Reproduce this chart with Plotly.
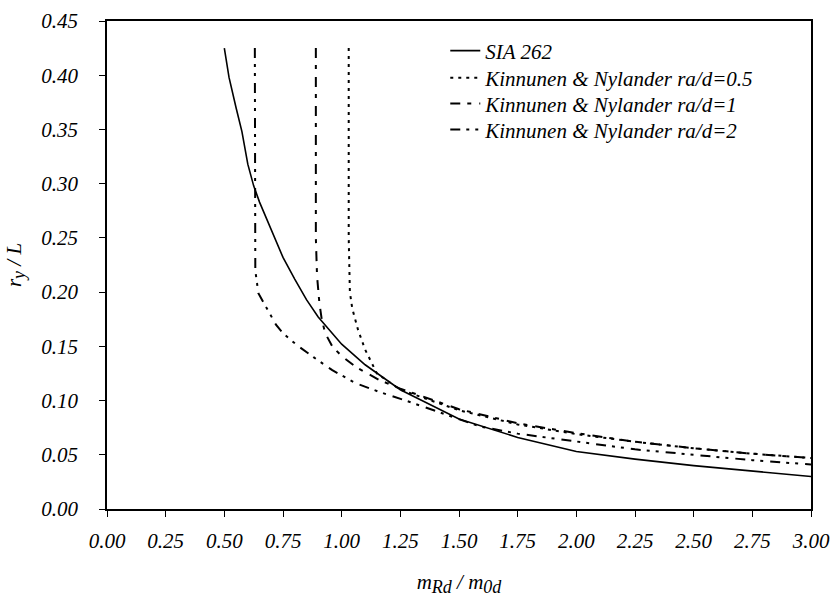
import plotly.graph_objects as go

# SIA 262
sia_x = [0.5, 0.52, 0.55, 0.575, 0.6, 0.625, 0.65, 0.7, 0.75, 0.8, 0.85, 0.9, 1.0, 1.1, 1.25, 1.5, 1.75, 2.0, 2.25, 2.5, 2.75, 3.0]
sia_y = [0.425, 0.398, 0.37, 0.348, 0.318, 0.298, 0.283, 0.258, 0.232, 0.212, 0.193, 0.177, 0.152, 0.133, 0.110, 0.083, 0.066, 0.053, 0.046, 0.040, 0.035, 0.030]

# Kinnunen & Nylander ra/d=0.5
kn05_x = [1.03, 1.03, 1.035, 1.045, 1.07, 1.10, 1.15, 1.25, 1.5, 1.75, 2.0, 2.25, 2.5, 2.75, 3.0]
kn05_y = [0.425, 0.25, 0.20, 0.185, 0.165, 0.147, 0.125, 0.110, 0.091, 0.078, 0.069, 0.062, 0.056, 0.051, 0.047]

# Kinnunen & Nylander ra/d=1
kn1_x = [0.89, 0.89, 0.895, 0.905, 0.915, 0.93, 0.96, 1.0, 1.06, 1.16, 1.25, 1.5, 1.75, 2.0, 2.25, 2.5, 2.75, 3.0]
kn1_y = [0.425, 0.25, 0.215, 0.19, 0.175, 0.162, 0.150, 0.141, 0.131, 0.119, 0.111, 0.092, 0.079, 0.070, 0.062, 0.056, 0.051, 0.047]

# Kinnunen & Nylander ra/d=2
kn2_x = [0.63, 0.63, 0.632, 0.645, 0.68, 0.72, 0.75, 0.81, 0.88, 0.96, 1.06, 1.16, 1.3, 1.42, 1.59, 1.75, 2.0, 2.25, 2.5, 2.75, 3.0]
kn2_y = [0.425, 0.25, 0.22, 0.199, 0.185, 0.170, 0.162, 0.151, 0.140, 0.128, 0.116, 0.108, 0.098, 0.089, 0.076, 0.0695, 0.062, 0.055, 0.050, 0.045, 0.041]

series_names = ["SIA 262", "Kinnunen &amp; Nylander ra/d=0.5",
                "Kinnunen &amp; Nylander ra/d=1", "Kinnunen &amp; Nylander ra/d=2"]

x_ticks = [0.0, 0.25, 0.5, 0.75, 1.0, 1.25, 1.5, 1.75, 2.0, 2.25, 2.5, 2.75, 3.0]
y_ticks = [0.0, 0.05, 0.10, 0.15, 0.20, 0.25, 0.30, 0.35, 0.40, 0.45]

FONT = "Liberation Serif, Times New Roman, serif"
FS = 21

styles = [dict(color="black", width=1.6),
          dict(color="black", width=2, dash="3px,5px"),
          dict(color="black", width=2, dash="10px,7px,4px,8px"),
          dict(color="black", width=2, dash="10px,6px,3px,6px,3px,7px")]
xs = [sia_x, kn05_x, kn1_x, kn2_x]
ys = [sia_y, kn05_y, kn1_y, kn2_y]
legend_ids = ["legend", "legend2", "legend3", "legend4"]

fig = go.Figure()
for x, y, nm, st, lg in zip(xs, ys, series_names, styles, legend_ids):
    fig.add_trace(go.Scatter(x=x, y=y, mode="lines", name=nm, line=st, legend=lg))

legend_rows = [0.9385, 0.883, 0.830, 0.777]
leg_common = dict(x=0.4805, xanchor="left", yanchor="middle", bgcolor="rgba(0,0,0,0)",
                  font=dict(family=FONT, size=FS, style="italic"))

W, H = 833, 597
L, T = 107, 21
fig.update_layout(
    width=W, height=H,
    margin=dict(l=L, r=W - L - 704, t=T, b=H - T - 488, autoexpand=False),
    paper_bgcolor="white", plot_bgcolor="white",
    font=dict(family=FONT, size=FS, color="black", style="italic"),
    showlegend=True,
    legend=dict(y=legend_rows[0], **leg_common),
    legend2=dict(y=legend_rows[1], **leg_common),
    legend3=dict(y=legend_rows[2], **leg_common),
    legend4=dict(y=legend_rows[3], **leg_common),
    xaxis=dict(range=[0, 3.0], tickvals=x_ticks,
               ticktext=["%.2f" % v for v in x_ticks], automargin=False,
               tickfont=dict(family=FONT, size=FS, style="italic"),
               showgrid=False, zeroline=False, showline=True, linecolor="black",
               linewidth=1.5, mirror=True, ticks="outside", ticklen=6, tickcolor="black",
               ticklabelstandoff=6,
               title=dict(text="m<sub><span style='font-size:18px'>Rd</span></sub> / m<sub><span style='font-size:18px'>0d</span></sub>",
                          standoff=24, font=dict(family=FONT, size=FS, style="italic"))),
    yaxis=dict(range=[0, 0.45], tickvals=y_ticks,
               ticktext=["%.2f" % v for v in y_ticks], automargin=False,
               tickfont=dict(family=FONT, size=FS, style="italic"),
               showgrid=False, zeroline=False, showline=True, linecolor="black",
               linewidth=1.5, mirror=True, ticks="outside", ticklen=6, tickcolor="black",
               ticklabelstandoff=17,
               title=dict(text="r<sub><span style='font-size:18px'>y</span></sub> / L", standoff=14,
                          font=dict(family=FONT, size=FS, style="italic"))),
)
fig.write_html("out.html", config={"displayModeBar": False},
               post_script="document.body.style.margin='0';document.body.style.overflow='hidden';")
